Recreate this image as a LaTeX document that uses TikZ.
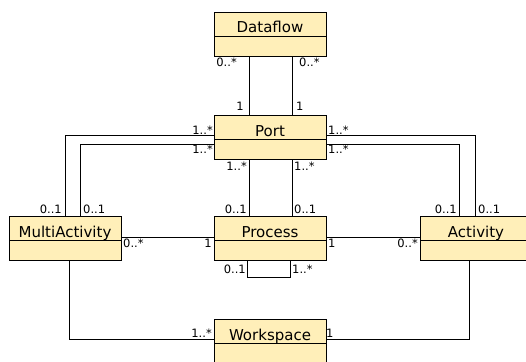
\documentclass[tikz,border=0pt]{standalone}
\usepackage{fontspec}
\setmainfont{DejaVu Sans}
\definecolor{clsfill}{RGB}{255,239,185}
\begin{document}
\begin{tikzpicture}[x=1pt,y=-1pt,
  cls/.style={draw=black, line width=0.8pt, fill=clsfill, minimum width=112pt, inner xsep=0pt, inner ysep=0pt, outer sep=0pt, text height=21pt, text depth=3pt, font=\fontsize{15}{17}\selectfont},
  attr/.style={draw=black, line width=0.8pt, fill=clsfill, minimum width=112pt, minimum height=20pt, inner sep=0pt, outer sep=0pt, anchor=north},
  mult/.style={inner sep=0pt, font=\fontsize{11.5}{13}\selectfont},
  conn/.style={draw=black, line width=0.8pt}]
\useasboundingbox (0,0) rectangle (526,361);
\clip (0,0) rectangle (526,361);

% classes
\node[cls, anchor=north west] (df) at (214,12) {Dataflow};
\node[attr] (dfA) at (df.south) {};
\node[cls, anchor=north west] (port) at (214,115) {Port};
\node[attr] (portA) at (port.south) {};
\node[cls, anchor=north west] (ma) at (9,216) {MultiActivity};
\node[attr] (maA) at (ma.south) {};
\node[cls, anchor=north west] (proc) at (214,216) {Process};
\node[attr] (procA) at (proc.south) {};
\node[cls, anchor=north west] (act) at (420,216) {Activity};
\node[attr] (actA) at (act.south) {};
\node[cls, anchor=north west] (ws) at (214,319) {Workspace};
\node[attr] (wsA) at (ws.south) {};

% connectors
\draw[conn] ([xshift=-21pt]dfA.south) -- ([xshift=-21pt]port.north);
\draw[conn] ([xshift=22pt]dfA.south) -- ([xshift=22pt]port.north);
\draw[conn] ([yshift=-8pt]port.west) -| (ma.north);
\draw[conn] ([yshift=5pt]portA.west) -| ([xshift=15pt]ma.north);
\draw[conn] ([yshift=-8pt]port.east) -| ([xshift=-1pt]act.north);
\draw[conn] ([yshift=5pt]portA.east) -| ([xshift=-17pt]act.north);
\draw[conn] ([xshift=-21pt]portA.south) -- ([xshift=-21pt]proc.north);
\draw[conn] ([xshift=22pt]portA.south) -- ([xshift=22pt]proc.north);
\draw[conn] ([yshift=-9pt]ma.east) -- ([yshift=-9pt]proc.west);
\draw[conn] ([yshift=-9pt]proc.east) -- ([yshift=-9pt]act.west);
\draw[conn] ([xshift=-23pt]procA.south) -- ++(0,17) -| ([xshift=20pt]procA.south);
\draw[conn] ([xshift=4pt]maA.south) |- ([yshift=-8pt]ws.west);
\draw[conn] ([xshift=-7pt]actA.south) |- ([yshift=-8pt]ws.east);

% multiplicities
\node[mult, anchor=base east] (l1) at (237,66) {0..*};
\node[mult, anchor=base west] (l2) at (299,66) {0..*};
\node[mult, anchor=base east] (l3) at (244,110) {1};
\node[mult, anchor=base west] (l4) at (296,110) {1};
\node[mult, anchor=base east] (l5) at (213,134) {1..*};
\node[mult, anchor=base east] (l6) at (213,153) {1..*};
\node[mult, anchor=base west] (l7) at (328,134) {1..*};
\node[mult, anchor=base west] (l8) at (328,153) {1..*};
\node[mult, anchor=base east] (l9) at (247,170) {1..*};
\node[mult, anchor=base west] (l10) at (294,170) {1..*};
\node[mult, anchor=base east] (l11) at (62,213) {0..1};
\node[mult, anchor=base west] (l12) at (83,213) {0..1};
\node[mult, anchor=base east] (l13) at (247,213) {0..1};
\node[mult, anchor=base west] (l14) at (294,213) {0..1};
\node[mult, anchor=base east] (l15) at (457,213) {0..1};
\node[mult, anchor=base west] (l16) at (478,213) {0..1};
\node[mult, anchor=base west] (l17) at (123,247) {0..*};
\node[mult, anchor=base east] (l18) at (212,247) {1};
\node[mult, anchor=base west] (l19) at (328,247) {1};
\node[mult, anchor=base east] (l20) at (418,247) {0..*};
\node[mult, anchor=base east] (l21) at (246,273) {0..1};
\node[mult, anchor=base west] (l22) at (292,273) {1..*};
\node[mult, anchor=base east] (l23) at (212,337) {1..*};
\node[mult, anchor=base west] (l24) at (326,337) {1};
\end{tikzpicture}
\end{document}
